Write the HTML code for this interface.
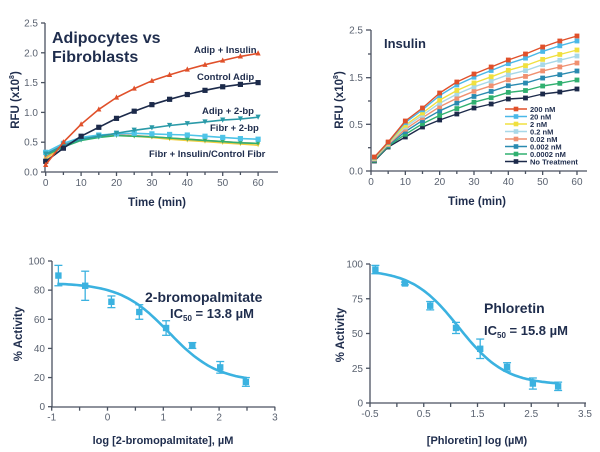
<!DOCTYPE html>
<html><head><meta charset="utf-8">
<style>
html,body{margin:0;padding:0;background:#fff;}
svg{display:block;font-family:"Liberation Sans",sans-serif;}
.t{fill:#5a6270;font-size:10px;}
.b{fill:#1f2d4d;font-weight:bold;}
.ax{stroke:#4a5260;stroke-width:1.3;fill:none;}
</style></head><body>
<svg id="s" width="600" height="452" viewBox="0 0 600 452" xmlns="http://www.w3.org/2000/svg">
<!-- Chart 1 -->
<g id="c1">
<line class="ax" x1="45" y1="23" x2="45" y2="172"/>
<line class="ax" x1="45" y1="172" x2="278" y2="172"/>
<text class="b" x="52" y="43" font-size="16">Adipocytes vs</text>
<text class="b" x="52" y="62" font-size="16">Fibroblasts</text>
<text class="b" x="194" y="53" font-size="9.5">Adip + Insulin</text>
<text class="b" x="197" y="80" font-size="9.5">Control Adip</text>
<text class="b" x="202" y="114" font-size="9.5">Adip + 2-bp</text>
<text class="b" x="210" y="131" font-size="9.5">Fibr + 2-bp</text>
<text class="b" x="149" y="157" font-size="9.5">Fibr + Insulin/Control Fibr</text>
<text class="b" x="157" y="206" font-size="11.5" text-anchor="middle">Time (min)</text>
<text class="b" font-size="11.5" text-anchor="middle" transform="translate(19,100) rotate(-90)">RFU (x10<tspan font-size="7" dy="-5">8</tspan><tspan dy="5">)</tspan></text>
</g>
<!-- Chart 2 -->
<g id="c2">
<line class="ax" x1="371" y1="30" x2="371" y2="171"/>
<line class="ax" x1="371" y1="171" x2="587" y2="171"/>
<text class="b" x="384" y="48" font-size="13">Insulin</text>
<text class="b" x="477" y="205" font-size="11.5" text-anchor="middle">Time (min)</text>
<text class="b" font-size="11.5" text-anchor="middle" transform="translate(343,100) rotate(-90)">RFU (x10<tspan font-size="7" dy="-5">8</tspan><tspan dy="5">)</tspan></text>
</g>
<!-- Chart 3 -->
<g id="c3">
<line class="ax" x1="52" y1="261" x2="52" y2="407"/>
<line class="ax" x1="52" y1="407" x2="275" y2="407"/>
<text class="b" x="145" y="302" font-size="14">2-bromopalmitate</text>
<text class="b" x="170" y="318" font-size="13">IC<tspan font-size="8" dy="3">50</tspan><tspan dy="-3"> = 13.8 µM</tspan></text>
<text class="b" x="163" y="444" font-size="11" text-anchor="middle">log [2-bromopalmitate], µM</text>
<text class="b" font-size="11.5" text-anchor="middle" transform="translate(22,334) rotate(-90)">% Activity</text>
</g>
<!-- Chart 4 -->
<g id="c4">
<line class="ax" x1="370" y1="264" x2="370" y2="403"/>
<line class="ax" x1="370" y1="403" x2="586" y2="403"/>
<text class="b" x="484" y="313" font-size="14">Phloretin</text>
<text class="b" x="484" y="335" font-size="13">IC<tspan font-size="8" dy="3">50</tspan><tspan dy="-3"> = 15.8 µM</tspan></text>
<text class="b" x="477" y="444" font-size="11" text-anchor="middle">[Phloretin] log (µM)</text>
<text class="b" font-size="11.5" text-anchor="middle" transform="translate(344,335) rotate(-90)">% Activity</text>
</g>
</svg>
<script>
var S=document.getElementById('s'),NS='http://www.w3.org/2000/svg';
function el(n,a,p){var e=document.createElementNS(NS,n);for(var k in a)e.setAttribute(k,a[k]);(p||S).appendChild(e);return e;}
function txt(x,y,s,anc){var e=el('text',{x:x,y:y,'class':'t','text-anchor':anc||'middle'});e.textContent=s;}
function poly(pts,c,w){el('polyline',{points:pts.map(function(p){return p[0].toFixed(1)+','+p[1].toFixed(1)}).join(' '),fill:'none',stroke:c,'stroke-width':w||1.6,'stroke-linejoin':'round'});}
function mark(x,y,c,type,s){s=s||2.6;
 if(type=='sq')el('rect',{x:x-s,y:y-s,width:2*s,height:2*s,fill:c});
 else if(type=='up')el('polygon',{points:(x)+','+(y-s-0.5)+' '+(x-s)+','+(y+s-0.5)+' '+(x+s)+','+(y+s-0.5),fill:c});
 else if(type=='dn')el('polygon',{points:(x)+','+(y+s)+' '+(x-s)+','+(y-s)+' '+(x+s)+','+(y-s),fill:c});
 else el('circle',{cx:x,cy:y,r:s,fill:c});}
var T=[0,5,10,15,20,25,30,35,40,45,50,55,60];
// Chart1
(function(){
 var X=function(t){return 45.7+t*3.54},Y=function(v){return 172-v*59.6};
 [0,0.5,1,1.5,2,2.5].forEach(function(v){el('line',{x1:41,x2:45,y1:Y(v),y2:Y(v),'class':'ax'});txt(38,Y(v)+3.5,v.toFixed(1),'end');});
 for(var t=0;t<=60;t+=5){el('line',{x1:X(t),x2:X(t),y1:172,y2:t%10?175:176,'class':'ax'});if(t%10==0)txt(X(t),186,t);}
 var S1=[
  ['#f0d040','ci',[0.22,0.45,0.55,0.6,0.61,0.6,0.58,0.55,0.53,0.51,0.49,0.47,0.45]],
  ['#f09070','ci',[0.25,0.46,0.56,0.61,0.62,0.61,0.59,0.57,0.55,0.53,0.51,0.49,0.48]],
  ['#30b070','ci',[0.28,0.42,0.53,0.58,0.61,0.6,0.59,0.57,0.55,0.53,0.51,0.49,0.48]],
  ['#4ec4e8','sq',[0.33,0.48,0.58,0.62,0.64,0.65,0.64,0.63,0.62,0.6,0.58,0.56,0.55]],
  ['#2a9aa8','dn',[0.3,0.45,0.55,0.6,0.65,0.7,0.74,0.78,0.81,0.84,0.87,0.89,0.92]],
  ['#1c2a4a','sq',[0.18,0.4,0.6,0.75,0.9,1.02,1.13,1.22,1.3,1.37,1.43,1.47,1.5]],
  ['#e0502a','up',[0.12,0.5,0.8,1.05,1.25,1.4,1.53,1.63,1.72,1.8,1.87,1.94,1.99]]];
 S1.forEach(function(s){var p=T.map(function(t,i){return [X(t),Y(s[2][i])]});poly(p,s[0]);p.forEach(function(q){if(s[1]!='ci')mark(q[0],q[1],s[0],s[1]);else mark(q[0],q[1],s[0],'dn',2.2);});});
})();
// Chart2
(function(){
 var X=function(t){return 371+t*3.433};
 var lab=[['0.0',171],['0.5',124.3],['1.5',77.7],['2.5',30]];
 lab.forEach(function(l){el('line',{x1:366,x2:371,y1:l[1],y2:l[1],'class':'ax'});txt(363,l[1]+3.5,l[0],'end');});
 [147.7,101,54].forEach(function(y){el('line',{x1:368,x2:371,y1:y,y2:y,'class':'ax'});});
 for(var t=0;t<=60;t+=5){el('line',{x1:X(t),x2:X(t),y1:171,y2:t%10?174:175,'class':'ax'});if(t%10==0)txt(X(t),185,t);}
 var TT=[1,5,10,15,20,25,30,35,40,45,50,55,60];
 var hi=[14,29,50,63,78,89,97,104,111,117,124,130,135],lo=[10,24,34,44,51,57,63,67,72,73,77,79,82];
 var ser=[['#1c2a4a',82,'No Treatment'],['#30b070',91,'0.0002 nM'],['#2a8ab0',100,'0.002 nM'],['#f09070',108,'0.02 nM'],['#a8d8e8',115,'0.2 nM'],['#f0e040',121,'2 nM'],['#4ab8e8',130,'20 nM'],['#e0502a',135,'200 nM']];
 ser.forEach(function(s){var f=(s[1]-82)/(135-82);var p=TT.map(function(t,i){return [X(t),171-(lo[i]+(hi[i]-lo[i])*f)]});poly(p,s[0],1.4);p.forEach(function(q){mark(q[0],q[1],s[0],'sq',2.4);});});
 ser.slice().reverse().forEach(function(s,i){var y=109+i*7.5;el('line',{x1:505,x2:527,y1:y,y2:y,stroke:s[0],'stroke-width':1.4});mark(516,y,s[0],'sq',2.3);var e=el('text',{x:530,y:y+2.8,'class':'b','font-size':'7.5'});e.textContent=s[2];});
})();
// dose-response
function dr(X,Y,xt,yt,ylab,pts,f,x0,x1,ytx,xl){
 yt.forEach(function(v){el('line',{x1:ytx-4,x2:ytx,y1:Y(v),y2:Y(v),'class':'ax'});txt(ytx-7,Y(v)+3.5,v,'end');});
 xt.forEach(function(v,i){var y0=Y(0);el('line',{x1:X(v),x2:X(v),y1:y0,y2:y0+4,'class':'ax'});if(xl[i]!==null)txt(X(v),y0+14,xl[i]);});
 var p=[];for(var x=x0;x<=x1+1e-6;x+=0.05)p.push([X(x),Y(f(x))]);poly(p,'#3bb2e0',2.6);
 pts.forEach(function(q){var c='#3bb2e0',x=X(q[0]);el('line',{x1:x,x2:x,y1:Y(q[1]+q[2]),y2:Y(q[1]-q[2]),stroke:c,'stroke-width':1.3});
  [q[1]+q[2],q[1]-q[2]].forEach(function(v){el('line',{x1:x-4,x2:x+4,y1:Y(v),y2:Y(v),stroke:c,'stroke-width':1.3});});mark(x,Y(q[1]),c,'sq',3.2);});
}
dr(function(v){return 51.7+(v+1)*55.8},function(v){return 406.7-v*1.457},
 [-1,-0.5,0,0.5,1,1.5,2,2.5,3],[0,20,40,60,80,100],'',
 [[-0.88,90,7],[-0.4,83,10],[0.07,72,4],[0.57,65,5],[1.05,54,5],[1.52,42,2],[2.02,27,4],[2.48,17,3]],
 function(x){return 17+68/(1+Math.pow(10,(x-1.1)*1.0));},-0.9,2.5,52,['-1',null,'0',null,'1',null,'2',null,'3']);
dr(function(v){return 370+(v+0.5)*53.75},function(v){return 403-v*1.39},
 [-0.5,0,0.5,1,1.5,2,2.5,3,3.5],[0,25,50,75,100],'',
 [[-0.4,96,3],[0.15,86,1],[0.62,70,3],[1.1,54,4],[1.55,39,7],[2.05,26,3],[2.53,14,4],[3.0,12,3]],
 function(x){return 13+83/(1+Math.pow(10,(x-1.15)*1.0));},-0.45,3.0,370,['-0.5',null,'0.5',null,'1.5',null,'2.5',null,'3.5']);
</script>
</body></html>
